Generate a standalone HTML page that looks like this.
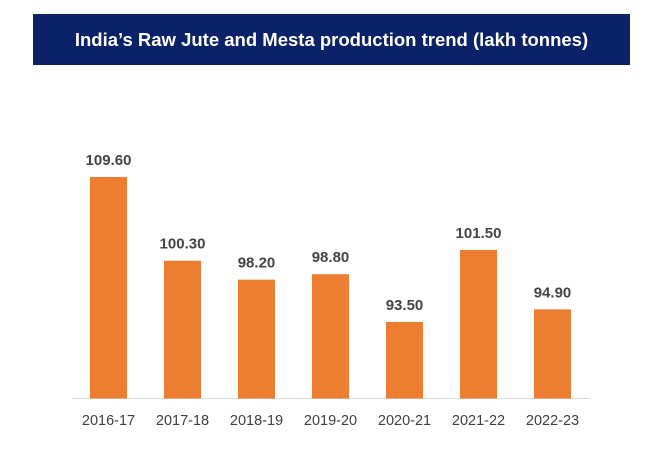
<!DOCTYPE html>
<html><head><meta charset="utf-8"><style>
body{margin:0;background:#fff;width:660px;height:454px;overflow:hidden;font-family:"Liberation Sans",sans-serif}
#title{position:absolute;left:33px;top:14px;width:597px;height:51px;background:#0c2268;color:#fff;font-weight:bold;font-size:18.5px;line-height:51px;text-align:center}
svg{position:absolute;left:0;top:0}
</style></head><body>
<div id="title">India’s Raw Jute and Mesta production trend (lakh tonnes)</div>
<svg id="c" width="660" height="454"></svg>
<script>
const categories=["2016-17","2017-18","2018-19","2019-20","2020-21","2021-22","2022-23"];
const values=[109.6,100.3,98.2,98.8,93.5,101.5,94.9];
const labels=["109.60","100.30","98.20","98.80","93.50","101.50","94.90"];
const NS="http://www.w3.org/2000/svg";
const svg=document.getElementById('c');
const base=398.5,vmin=85,scale=(398.5-177)/(109.6-85);
const y=v=>base-(v-vmin)*scale;
const x=i=>90+i*74;
const bw=37;
function mk(t,a){const e=document.createElementNS(NS,t);for(const k in a)e.setAttribute(k,a[k]);svg.appendChild(e);return e;}
const ax=mk('line',{x1:72,x2:590,y1:base,y2:base,stroke:'#d9d9d9','stroke-width':1});


values.forEach((v,i)=>{
 const r=mk('rect',{x:x(i),y:y(v),width:bw,height:base-y(v),fill:'#ed7d31'});
 
 
 const t=mk('text',{x:x(i)+bw/2,y:y(v)-12,'text-anchor':'middle','font-size':'15','font-weight':'bold',fill:'#444'});
 t.textContent=labels[i];
 
 
 const c=mk('text',{x:x(i)+bw/2,y:425,'text-anchor':'middle','font-size':'14.5',fill:'#404040'});
 c.textContent=categories[i];
 
 
});
</script>
</body></html>
